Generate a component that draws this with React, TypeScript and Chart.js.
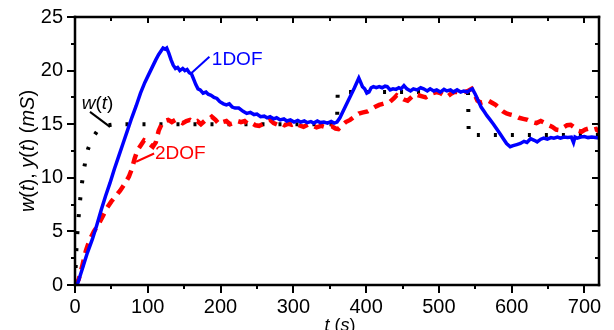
import React, { useEffect, useRef } from 'react';
import { Chart, registerables } from 'chart.js';

Chart.register(...registerables);

// ---------- data ----------
const xTickValues = [0, 100, 200, 300, 400, 500, 600, 700];
const yTickValues = [0, 5, 10, 15, 20, 25];

// reference w(t) (black dotted)
const wT = [0, 1.5, 3, 4.5, 7, 9, 12, 15, 18, 22, 26, 30, 35, 40, 45, 50, 55, 60, 360, 361, 540, 541, 720];
const wY = [0, 2.8, 4.6, 6.0, 7.9, 9.2, 10.7, 11.8, 12.7, 13.4, 13.9, 14.3, 14.6, 14.8, 14.9, 14.95, 15, 15, 15, 18, 18, 14, 14];

// 1DOF response (blue solid)
const oneT = [3, 10, 17, 24, 30, 36, 42, 48, 54, 60, 66, 72, 78, 84, 90, 96, 101, 106, 111, 115, 118, 121, 124, 126, 129, 132, 135, 138, 141, 144, 148, 151, 154, 157, 160, 163, 166, 169, 172, 176, 180, 183, 187, 191, 195, 199, 204, 208, 212, 216, 220, 225, 231, 236, 241, 246, 250, 255, 260, 264, 268, 273, 277, 282, 287, 291, 296, 301, 306, 310, 315, 319, 324, 328, 333, 337, 342, 347, 352, 356, 360, 364, 369, 374, 379, 384, 388, 390, 392, 395, 398, 401, 404, 407, 410, 414, 418, 422, 426, 429, 433, 437, 441, 445, 448, 452, 456, 461, 465, 470, 475, 479, 484, 488, 493, 497, 502, 507, 511, 516, 520, 525, 530, 534, 539, 543, 546, 550, 554, 558, 562, 566, 570, 575, 580, 584, 589, 593, 598, 602, 607, 612, 617, 621, 626, 631, 635, 640, 644, 649, 654, 658, 663, 667, 672, 677, 682, 685, 687, 690, 695, 700, 705, 710, 715, 720];
const oneY = [0, 1.5, 3.0, 4.3, 5.6, 7.0, 8.3, 9.5, 10.8, 12.0, 13.2, 14.4, 15.6, 16.7, 17.9, 18.9, 19.6, 20.3, 21.0, 21.5, 21.8, 22.1, 22.0, 22.1, 21.6, 21.0, 20.5, 20.2, 20.3, 20.0, 20.2, 20.0, 20.1, 19.8, 19.7, 19.2, 18.7, 18.3, 18.2, 17.9, 18.0, 17.8, 17.7, 17.5, 17.4, 17.1, 16.9, 16.8, 16.9, 16.6, 16.5, 16.5, 16.2, 16.0, 16.1, 15.9, 15.95, 15.7, 15.75, 15.6, 15.7, 15.5, 15.6, 15.4, 15.5, 15.3, 15.4, 15.2, 15.35, 15.2, 15.3, 15.15, 15.25, 15.1, 15.3, 15.15, 15.2, 15.1, 15.25, 15.1, 15.2, 15.6, 16.3, 17.0, 17.7, 18.4, 19.0, 19.3, 19.0, 18.5, 18.3, 17.9, 18.0, 18.4, 18.5, 18.4, 18.5, 18.4, 18.55, 18.5, 18.2, 18.3, 18.25, 18.4, 18.3, 18.6, 18.3, 18.1, 18.3, 18.2, 18.4, 18.3, 18.1, 18.3, 18.1, 18.2, 18.0, 18.25, 18.1, 18.2, 18.0, 18.2, 18.0, 18.1, 18.0, 18.2, 18.3, 17.8, 17.2, 16.6, 16.2, 15.8, 15.45, 15.0, 14.5, 14.1, 13.6, 13.2, 12.9, 13.0, 13.1, 13.2, 13.4, 13.3, 13.65, 13.5, 13.35, 13.6, 13.7, 13.6, 13.75, 13.7, 13.8, 13.7, 13.8, 13.75, 13.8, 13.3, 13.8, 13.7, 13.8, 13.85, 13.75, 13.8, 13.75, 13.7];

// 2DOF response (red dashed)
const twoT = [0, 5, 10, 15, 20, 26, 32, 38, 44, 50, 56, 62, 68, 74, 78, 82, 86, 90, 95, 99, 103, 107, 111, 115, 119, 123, 128, 133, 138, 143, 148, 153, 158, 163, 168, 173, 178, 183, 188, 193, 198, 203, 208, 213, 218, 223, 228, 233, 238, 243, 248, 253, 258, 263, 268, 273, 278, 283, 288, 293, 298, 303, 308, 314, 320, 326, 332, 338, 343, 348, 353, 358, 362, 367, 372, 378, 384, 390, 396, 402, 407, 412, 418, 423, 428, 433, 438, 442, 447, 452, 457, 462, 467, 472, 477, 482, 487, 492, 497, 502, 507, 511, 516, 521, 525, 530, 535, 540, 545, 549, 553, 558, 563, 568, 573, 578, 583, 588, 593, 598, 604, 610, 616, 622, 628, 634, 640, 646, 651, 656, 661, 666, 671, 676, 681, 686, 691, 696, 701, 706, 711, 716, 720];
const twoY = [0, 0.5, 1.8, 3.2, 4.2, 5.0, 5.6, 6.4, 7.2, 7.8, 8.3, 8.8, 9.4, 10.1, 10.8, 11.8, 12.6, 13.0, 13.5, 13.4, 13.1, 12.9, 13.3, 14.4, 15.0, 15.3, 15.4, 15.2, 15.4, 15.3, 15.1, 15.3, 15.4, 15.2, 15.3, 15.0, 15.3, 15.4, 15.7, 15.4, 15.0, 15.2, 15.3, 15.0, 15.1, 15.3, 15.2, 15.3, 15.0, 15.1, 14.9, 14.85, 15.0, 15.2, 15.4, 15.1, 14.95, 15.1, 14.9, 15.05, 14.95, 15.1, 14.9, 14.75, 14.95, 14.9, 14.7, 14.85, 14.75, 14.7, 14.8, 14.6, 14.55, 14.9, 15.2, 15.4, 15.7, 16.0, 16.1, 16.2, 16.4, 16.6, 16.8, 16.9, 17.0, 17.1, 17.4, 17.7, 17.5, 17.3, 17.2, 17.5, 17.8, 17.7, 17.6, 17.5, 17.7, 17.9, 18.0, 17.9, 17.7, 17.55, 17.8, 18.0, 18.0, 17.9, 18.0, 18.1, 18.3, 17.8, 17.2, 17.0, 17.1, 17.2, 17.0, 16.8, 16.5, 16.2, 16.0, 15.9, 15.8, 15.6, 15.5, 15.4, 15.2, 15.1, 15.3, 15.1, 14.9, 14.75, 14.5, 14.45, 14.7, 14.9, 14.95, 14.7, 14.4, 14.3, 14.5, 14.6, 14.45, 14.55, 14.3];

const seriesNames = ['1DOF', '2DOF', 'w(t)'];

const FONT = '"Liberation Sans", Arial, Helvetica, sans-serif';

type Seg = { t: string; i?: boolean };

function drawRich(ctx: CanvasRenderingContext2D, segs: Seg[], x: number, y: number, size: number, align: 'left' | 'center') {
  const fontOf = (s: Seg) => `${s.i ? 'italic ' : ''}${size}px ${FONT}`;
  let total = 0;
  const widths = segs.map((s) => {
    ctx.font = fontOf(s);
    const w = ctx.measureText(s.t).width;
    total += w;
    return w;
  });
  let cx = align === 'center' ? x - total / 2 : x;
  ctx.textAlign = 'left';
  segs.forEach((s, k) => {
    ctx.font = fontOf(s);
    ctx.fillText(s.t, cx, y);
    cx += widths[k];
  });
}

const framePlugin = {
  id: 'frameTicks',
  afterDraw(chart: any) {
    const ctx: CanvasRenderingContext2D = chart.ctx;
    const a = chart.chartArea;
    const xs = chart.scales.x;
    const ys = chart.scales.y;
    ctx.save();
    ctx.setLineDash([]);
    ctx.globalAlpha = 1;
    ctx.fillStyle = '#000000';
    const L = Math.round(a.left), R = Math.round(a.right), T = Math.round(a.top), B = Math.round(a.bottom);
    const fw = 2.5;
    // frame
    ctx.fillRect(L - fw / 2, T - fw / 2, R - L + fw, fw);
    ctx.fillRect(L - fw / 2, B - fw / 2, R - L + fw, fw);
    ctx.fillRect(L - fw / 2, T - fw / 2, fw, B - T + fw);
    ctx.fillRect(R - fw / 2, T - fw / 2, fw, B - T + fw);
    // ticks
    for (let v = 0; v <= 700; v += 50) {
      const px = Math.round(xs.getPixelForValue(v));
      const major = v % 100 === 0;
      ctx.fillRect(px - 1, B, 2, major ? 8 : 4);
      ctx.fillRect(px - 1, T, 2, major ? 6 : 4);
    }
    for (let v = 0; v <= 25; v += 2.5) {
      const py = Math.round(ys.getPixelForValue(v));
      const major = v % 5 === 0;
      const lenL = major ? 8 : 4;
      const lenR = major ? 7 : 4;
      ctx.fillRect(L - lenL, py - 1, lenL, 2);
      ctx.fillRect(R - lenR, py - 1, lenR, 2);
    }

    // annotations (in data coordinates)
    const P = (t: number, v: number) => [xs.getPixelForValue(t), ys.getPixelForValue(v)];
    const lines: [number, number, number, number, string][] = [
      [160.5, 19.8, 184.7, 21.3, '#0000ff'],
      [83.9, 11.5, 108.7, 12.27, '#ff0000'],
      [20.6, 16.15, 48.1, 14.75, '#000000'],
    ];
    ctx.lineWidth = 2;
    lines.forEach(([t1, v1, t2, v2, c]) => {
      const [x1, y1] = P(t1, v1);
      const [x2, y2] = P(t2, v2);
      ctx.strokeStyle = c;
      ctx.beginPath();
      ctx.moveTo(x1, y1);
      ctx.lineTo(x2, y2);
      ctx.stroke();
    });
    ctx.textBaseline = 'middle';
    let [lx, ly] = P(188, 21.0);
    ctx.fillStyle = '#0000ff';
    drawRich(ctx, [{ t: seriesNames[0] }], lx, ly, 19, 'left');
    [lx, ly] = P(110, 12.27);
    ctx.fillStyle = '#ff0000';
    drawRich(ctx, [{ t: seriesNames[1] }], lx, ly, 19, 'left');
    [lx, ly] = P(9.2, 16.87);
    ctx.fillStyle = '#000';
    drawRich(ctx, [{ t: 'w', i: true }, { t: '(' }, { t: 't', i: true }, { t: ')' }], lx, ly, 19, 'left');

    // axis titles
    ctx.textBaseline = 'alphabetic';
    ctx.fillStyle = '#000';
    drawRich(ctx, [{ t: 't', i: true }, { t: ' (' }, { t: 's', i: true }, { t: ')' }], (a.left + a.right) / 2 + 3, 331, 18, 'center');
    ctx.save();
    ctx.translate(33.5, (a.top + a.bottom) / 2);
    ctx.rotate(-Math.PI / 2);
    drawRich(
      ctx,
      [
        { t: 'w', i: true }, { t: '(' }, { t: 't', i: true }, { t: '), ' },
        { t: 'y', i: true }, { t: '(' }, { t: 't', i: true }, { t: ') (' },
        { t: 'mS', i: true }, { t: ')' },
      ],
      0, 0, 20, 'center'
    );
    ctx.restore();
    ctx.restore();
  },
};

const pts = (ts: number[], vs: number[]) => ts.map((t, k) => ({ x: t, y: vs[k] }));

export default function App() {
  const ref = useRef<HTMLCanvasElement | null>(null);
  useEffect(() => {
    document.body.style.margin = '0';
    const chart = new Chart(ref.current as HTMLCanvasElement, {
      type: 'line',
      data: {
        datasets: [
          {
            label: seriesNames[0],
            data: pts(oneT, oneY),
            borderColor: '#0000ff',
            borderWidth: 3.5,
            pointRadius: 0,
            tension: 0,
            fill: false,
          },
          {
            label: seriesNames[1],
            data: pts(twoT, twoY),
            borderColor: '#ff0000',
            borderWidth: 4.5,
            borderDash: [10, 7],
            pointRadius: 0,
            tension: 0,
            fill: false,
          },
          {
            label: seriesNames[2],
            data: pts(wT, wY),
            borderColor: '#000000',
            borderWidth: 4,
            borderDash: [3, 14],
            pointRadius: 0,
            tension: 0,
            fill: false,
          },
        ],
      },
      options: {
        animation: false,
        responsive: true,
        maintainAspectRatio: false,
        layout: { padding: { top: 17, right: 15, left: 0, bottom: 0 } },
        plugins: { legend: { display: false }, tooltip: { enabled: false } },
        scales: {
          x: {
            type: 'linear',
            min: 0,
            max: 720,
            grid: { display: false, drawTicks: false },
            border: { display: false },
            afterBuildTicks: (s: any) => {
              s.ticks = xTickValues.map((v) => ({ value: v }));
            },
            afterFit: (s: any) => {
              s.height = 45;
              s.paddingLeft = 0;
              s.paddingRight = 0;
            },
            ticks: {
              color: '#000',
              padding: 10,
              maxRotation: 0,
              autoSkip: false,
              font: { family: FONT, size: 20 },
            },
          },
          y: {
            type: 'linear',
            min: 0,
            max: 25,
            grid: { display: false, drawTicks: false },
            border: { display: false },
            afterBuildTicks: (s: any) => {
              s.ticks = yTickValues.map((v) => ({ value: v }));
            },
            afterFit: (s: any) => {
              s.width = 75;
              s.paddingTop = 0;
              s.paddingBottom = 0;
            },
            ticks: {
              color: '#000',
              padding: 12,
              font: { family: FONT, size: 20 },
            },
          },
        },
      },
      plugins: [framePlugin],
    } as any);
    return () => chart.destroy();
  }, []);
  return (
    <div style={{ width: 614, height: 330, position: 'relative' }}>
      <canvas ref={ref} />
    </div>
  );
}
